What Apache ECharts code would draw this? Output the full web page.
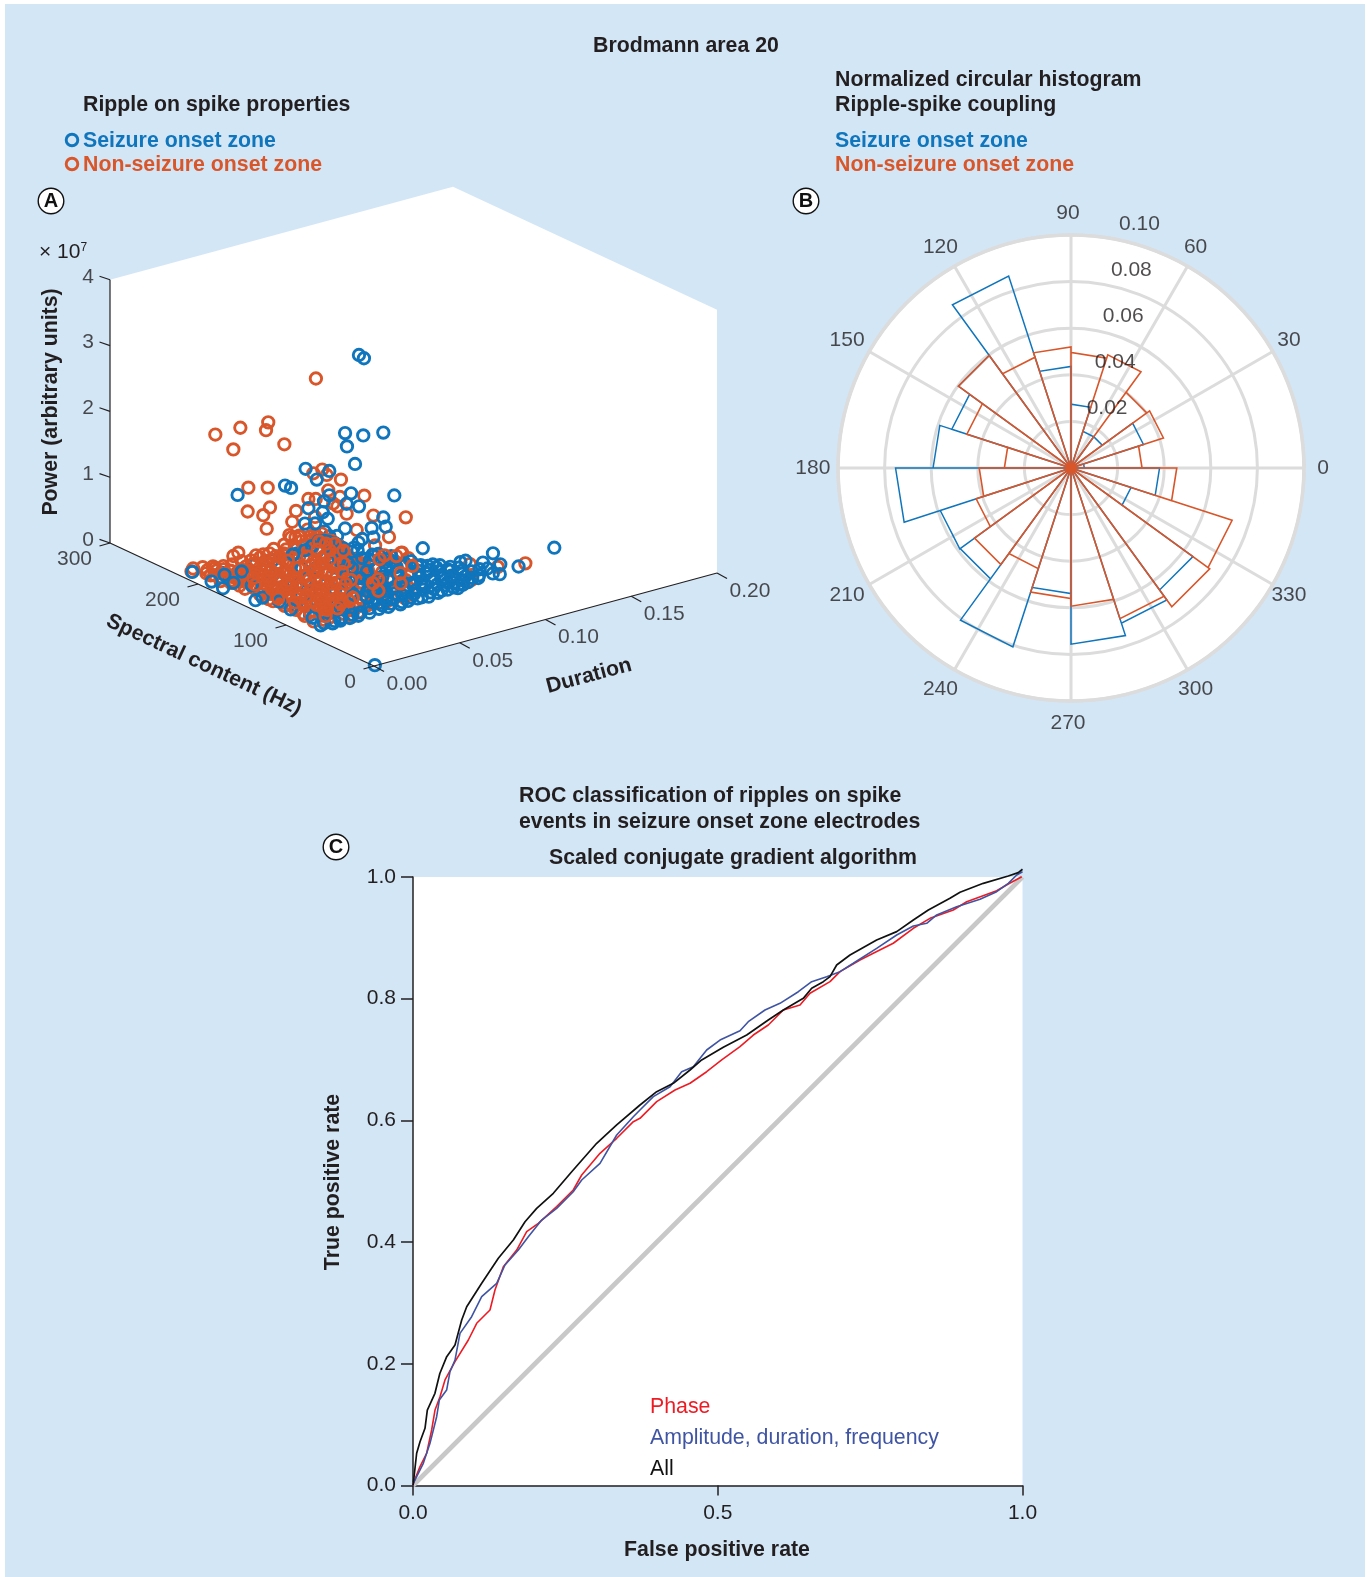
<!DOCTYPE html>
<html><head><meta charset="utf-8">
<style>html,body{margin:0;padding:0;background:#fff}#c{width:1370px;height:1577px}</style>
<script src="https://cdn.jsdelivr.net/npm/echarts@6/dist/echarts.min.js"></script>
</head><body><div id="c"></div>
<script>
// ---------- Panel A values: [duration (s), spectral content (Hz), power (x 1e7)]
const sozIsolated = [[.0682,150,3.31],[.0711,150,3.24],[.0601,150,2.18],[.0707,150,2.07],[.0824,150,2.03],[.0612,150,1.97],[.0659,150,1.67],[.0371,150,1.80],[.0509,150,1.67],[.0436,150,1.59],[.0251,150,1.63],[.0286,150,1.57],[.0231,200,1.19],[.0636,150,1.24],[.0509,150,1.30],[.0478,150,1.23],[.0387,150,1.19],[.0682,150,1.01],[.0888,150,1.03],[.0471,150,1.07],[.05,150,.95],[.0367,150,.97],[.0824,150,.74],[.0756,150,.63],[.0838,150,.59],[.0766,150,.48],[.0701,150,.50],[.0503,150,.60],[.1054,150,.11],[.0299,150,.55],[.0601,150,.73],[.061,150,1.10],[.0426,150,.93],
 [.159,105,.02],[.114,124,0],[.117,124,0],[.122,114,0],[.133,124,0],[.127,104,0],[.119,89,0],[.117,93,0],[.119,103,0],[.132,93,0],[.108,92,0],[.097,88,0],[.102,132,0],[.097,136,0],[.0075,221,0],[.0069,198,0],[.0059,183,0],[.017,203,0],[.026,201,0],[.0084,151,0],[.001,1,0]];
const sozFront = [[.015,86,.01],[.02,84,.02],[.026,88,0],[.031,85,.03],[.037,87,.01],[.043,89,.02],[.049,86,.04],[.055,88,.01],[.06,85,.02],[.066,87,.03],[.072,86,0],[.078,88,.02],[.084,87,.01],[.09,85,.03],[.095,89,.01],[.1,88,.02],
 [.012,84,.01],[.018,82,.01],[.023,83,.01],[.028,82,.02],[.034,84,0],[.04,83,.01],[.046,84,.02],[.052,85,0],[.058,83,.01],[.063,84,.02],[.069,85,.01],[.075,84,0],[.081,85,.01],[.087,86,.01],[.092,84,.01],
 [.014,97,.03],[.03,96,.06],[.041,97,.04],[.047,94,.08],[.052,98,.03],[.057,96,.05],[.063,99,.04],[.068,95,.06],[.074,97,.02],[.08,98,.05],[.086,96,.03],[.091,94,.04],[.097,99,.02],[.103,97,.03],
 [.05,92,.03],[.054,91,.06],[.059,93,.02],[.064,92,.05],[.07,91,.03],[.076,92,.05],[.082,92,.02],[.088,91,.04],[.094,93,.02],[.099,92,.03],[.105,93,.02],[.11,95,.01],
 [.044,109,.1],[.05,105,.13],[.055,108,.06],[.061,111,.09],[.067,106,.07],[.072,109,.1],[.078,107,.05],[.083,110,.08],[.089,105,.06],[.095,108,.04],[.101,110,.05],[.106,107,.03],
 [.048,102,.08],[.053,101,.12],[.058,103,.08],[.064,102,.1],[.069,101,.07],[.075,103,.08],[.08,102,.06],[.086,103,.06],[.092,102,.05],[.098,103,.04],[.104,102,.03],[.11,103,.02],[.115,104,.01],
 [.047,122,.16],[.053,119,.22],[.059,121,.12],[.065,117,.17],[.07,120,.1],[.076,123,.13],[.082,118,.09],[.088,121,.07],[.093,119,.06],[.099,122,.04],[.105,118,.03],
 [.05,114,.14],[.056,115,.18],[.062,114,.16],[.068,115,.12],[.073,114,.13],[.079,115,.1],[.085,114,.08],[.09,115,.06],[.096,114,.05],[.102,115,.03],[.108,114,.02],
 [.05,130,.2],[.056,134,.26],[.063,131,.18],[.069,133,.16],[.075,129,.2],[.081,132,.11],[.086,134,.08],[.092,130,.06],[.097,128,.04],[.103,126,.02],
 [.053,143,.34],[.06,146,.22],[.067,144,.27],[.073,147,.17],[.079,142,.13],[.085,145,.09],[.09,140,.05],[.095,143,.03],
 [.013,120,.02],[.014,135,.04],[.012,150,.02],[.016,170,.05],[.013,185,.02],
 [.046,160,.5],[.052,158,.55],[.056,155,.38],[.06,152,.42],[.048,172,.35],[.064,150,.35],[.07,155,.3],[.076,150,.22],[.082,155,.16],[.088,152,.1],[.055,170,.45],[.062,165,.4],[.068,168,.25]];
const sozBack = [[.014,100,.05],[.018,112,.1],[.022,125,.15],[.026,138,.2],[.03,150,.22],[.034,162,.3],[.038,140,.35],[.042,128,.4],[.046,118,.45],[.05,135,.5],[.054,146,.55],[.058,155,.6],[.062,125,.4],[.028,170,.12],[.024,185,.1],[.02,195,.05],[.016,205,.03],[.033,120,.25],[.037,105,.2],[.041,95,.15],[.045,110,.3],[.049,100,.22],[.053,115,.28],[.057,130,.33],[.03,195,.1],[.036,185,.2],[.042,175,.3],[.048,165,.4],
 [.018,96,.04],[.022,106,.06],[.026,96,.05],[.03,112,.1],[.034,100,.08],[.038,118,.16],[.042,108,.12],[.016,120,.06],[.02,135,.08],[.024,150,.1],[.028,128,.12],[.032,140,.2],[.036,152,.28],[.04,165,.4],[.044,150,.5],[.048,142,.42],[.052,152,.66],[.056,165,.62],[.06,140,.5],[.064,135,.32],[.068,150,.46],[.072,140,.3],[.076,135,.24],[.08,140,.2]];
const nsozIsolated = [[.0101,200,2.20],[.0247,200,2.20],[.0153,150,2.66],[.014,150,2.55],[.0206,200,1.90],[.0247,150,2.26],[.0037,150,1.75],[.015,150,1.67],[.0033,150,1.39],[.0163,150,1.36],[.0124,150,1.27],[.0144,150,1.05],[.0468,150,1.72],[.0416,150,1.70],[.0494,150,1.62],[.0577,150,1.49],[.0503,150,1.38],[.0387,150,1.33],[.043,150,1.30],[.0713,150,1.15],[.0315,150,1.20],[.0293,150,1.05],[.0276,150,.86],[.0334,150,.81],[.0397,150,.755],[.0363,150,.62],[.0766,150,.81],[.0955,150,.65],[.061,150,.95],[.0426,150,1.03],[.0857,150,.42],[.0927,150,.13],[.0556,150,1.10],[.0669,150,.66],[.0776,150,.35],[.0235,200,.31],[.0206,200,.28],[.0082,150,.69],[.0105,150,.64],[.0241,150,.51],[.0571,150,1.23],[.0532,150,1.16],[.0455,150,.66],[.0431,150,3.13],
 [.137,95,0],[.116,117,0],[.124,101,0],[.104,92,0],[.099,105,0],[.098,152,0],[.1,163,0],[.0075,222,0],[.01,205,.03],[.008,190,.05],[.014,188,.03],[.021,205,.02],[.026,190,.03],[.012,160,.1],[.02,178,.1],[.03,172,.12],[.018,150,.1],[.022,140,.05],[.026,160,.18]];
const nsozMass = [[.012,92,.02],[.016,88,.04],[.02,90,.03],[.024,93,.06],[.028,89,.04],[.033,91,.05],[.037,94,.03],[.042,90,.06],[.047,92,.04],[.053,89,.05],[.058,93,.03],[.064,90,.02],[.07,91,.04],
 [.011,100,.06],[.015,102,.08],[.019,99,.12],[.022,104,.09],[.027,101,.14],[.031,98,.17],[.035,103,.12],[.039,100,.19],[.044,105,.14],[.05,99,.16],[.056,102,.1],[.063,104,.08],[.072,101,.05],[.08,103,.04],
 [.012,112,.07],[.016,115,.13],[.02,110,.16],[.024,113,.22],[.028,117,.18],[.032,111,.26],[.036,114,.3],[.04,118,.24],[.044,112,.32],[.049,116,.26],[.054,113,.2],[.06,118,.14],[.068,115,.09],[.076,112,.07],
 [.012,125,.05],[.016,128,.1],[.02,124,.14],[.024,130,.2],[.028,126,.27],[.032,129,.32],[.036,125,.38],[.04,131,.34],[.044,127,.44],[.048,124,.36],[.052,129,.42],[.057,126,.28],[.063,130,.2],[.07,127,.14],
 [.012,138,.04],[.016,142,.08],[.02,136,.12],[.024,140,.18],[.028,144,.24],[.032,138,.3],[.036,141,.4],[.04,137,.5],[.044,143,.46],[.048,139,.58],[.052,142,.48],[.056,137,.36],[.062,141,.3],[.068,144,.18],
 [.013,155,.03],[.017,158,.06],[.021,152,.1],[.025,156,.16],[.029,160,.22],[.033,154,.3],[.037,157,.42],[.041,153,.52],[.045,159,.6],[.049,155,.7],[.053,158,.52],[.057,152,.42],[.063,156,.26],
 [.012,170,.03],[.016,174,.07],[.02,168,.1],[.024,172,.14],[.028,176,.2],[.032,170,.28],[.036,173,.38],[.04,168,.48],[.044,175,.55],[.048,171,.44],[.052,174,.32],
 [.012,186,.02],[.016,190,.05],[.02,184,.08],[.024,188,.1],[.028,192,.16],[.032,185,.22],[.036,189,.28],[.04,192,.3],
 [.012,205,.02],[.016,210,.03],[.02,202,.05],[.024,208,.08],[.028,205,.12],[.014,222,.02],[.018,218,.03],
 [.026,100,.03],[.03,108,.04],[.034,95,.02],[.038,105,.03],[.042,100,.02],[.036,88,.01],[.03,84,.01],[.024,86,.01],[.045,96,.01],[.05,108,.05],
 [.03,120,.05],[.036,128,.08],[.042,118,.06],[.034,110,.02],[.028,112,.03],[.046,102,.02],[.038,95,.02],
 [.013,145,.02],[.015,150,.05],[.017,162,.03],[.019,145,.07],[.021,162,.06],[.023,148,.04],[.025,168,.09],[.027,150,.07],[.029,180,.13],[.031,148,.12],[.033,165,.16],[.035,148,.2],[.037,172,.26],[.039,145,.28],[.041,180,.36],[.043,150,.34],
 [.013,178,.02],[.015,182,.04],[.017,178,.06],[.019,194,.04],[.021,190,.06],[.023,196,.05],[.025,180,.08],[.027,198,.09],[.029,185,.1],[.031,200,.14],[.033,190,.14],[.035,178,.18],[.037,198,.2],[.039,182,.24],
 [.013,198,.02],[.015,196,.02],[.017,215,.02],[.019,208,.04],[.022,214,.03],[.025,200,.05],[.011,212,.01],[.013,215,.02],[.01,225,.01],
 [.014,108,.03],[.018,104,.05],[.022,98,.03],[.026,106,.08],[.03,104,.1],[.034,106,.13],[.038,110,.18],[.042,108,.22],[.046,108,.2],[.05,112,.22],[.054,106,.16],[.058,108,.12],[.062,110,.1],[.066,106,.06],
 [.014,120,.06],[.018,118,.08],[.022,120,.12],[.026,122,.2],[.03,118,.22],[.034,120,.3],[.038,122,.34],[.042,120,.42],[.046,124,.4],[.05,120,.34],[.054,122,.3],[.058,120,.22],[.062,124,.16],[.066,120,.12],
 [.014,132,.04],[.018,134,.1],[.022,132,.14],[.026,134,.22],[.03,132,.28],[.034,134,.38],[.038,132,.46],[.042,136,.54],[.046,134,.6],[.05,136,.52],[.054,134,.44],[.058,136,.3],[.062,134,.24],[.066,136,.16],
 [.016,148,.06],[.02,148,.1],[.024,146,.16],[.028,150,.26],[.032,148,.34],[.036,150,.48],[.04,148,.6],[.044,150,.72],[.048,148,.66],[.052,150,.6],[.056,148,.5],[.06,150,.36],[.064,148,.22],
 [.034,165,.34],[.038,162,.5],[.042,165,.64],[.046,165,.72],[.05,165,.62],[.054,165,.5],[.058,165,.4],[.062,165,.28],[.035,180,.3],[.04,180,.44],[.045,182,.5],[.05,180,.42],[.055,178,.3]];
const nsozTop = [[.02,94,.03],[.024,100,.06],[.028,96,.08],[.032,100,.1],[.036,98,.12],[.04,102,.12],[.022,108,.1],[.026,112,.14],[.03,106,.14],[.034,116,.2],[.038,112,.2],[.042,114,.24],[.046,116,.26],[.024,124,.12],[.028,120,.2],[.032,124,.28],[.036,118,.26],[.04,125,.34],[.044,122,.36],[.048,128,.42],[.03,136,.3],[.034,130,.38],[.038,136,.44],[.042,132,.5],[.046,140,.56],[.05,142,.62],[.054,140,.5],[.036,146,.5],[.04,142,.6],[.044,148,.66],[.05,152,.56],[.018,125,.06],[.016,140,.04],[.02,155,.06],[.024,165,.1],[.028,152,.16],[.032,160,.2],[.018,170,.05],[.022,180,.06],[.026,172,.1],[.03,176,.14],[.036,168,.3],[.06,118,.1],[.066,124,.08],[.072,110,.06],[.078,122,.1],[.058,108,.06],[.088,128,.1],[.075,140,.22],[.082,148,.18],[.09,150,.1]];
// ---------- Panel B values: bar height per 18-degree bin, from 0 degrees counter-clockwise
const binWidthDeg = 18;
const sozBins  = [.0057,.0327,.0166,.0166,.0274,.0436,.0866,.0597,.0538,.0592,.0753,.059,.0588,.0807,.0539,.0756,.07,.0647,.0271,.038];
const nsozBins = [.0305,.0417,.0402,.0511,.0496,.052,.05,.0597,.047,.0286,.0394,.0428,.0512,.0454,.056,.0593,.068,.0736,.0727,.0454];
const radialTicks = [.02,.04,.06,.08,.10];
const angleTicks = [0,30,60,90,120,150,180,210,240,270,300,330];
// ---------- Panel C values
const rocPhase = [[0,0],[.0005,.0036],[.0115,.031],[.0224,.053],[.0306,.0912],[.0361,.124],[.0443,.146],[.0525,.1734],[.0689,.2035],[.0908,.2391],[.1045,.2666],[.1263,.2884],[.1345,.3213],[.1482,.3596],[.1701,.387],[.1865,.4171],[.2056,.4309],[.2357,.4582],[.2629,.4856],[.2768,.5103],[.3068,.5459],[.3342,.5706],[.3615,.5979],[.3724,.6034],[.3998,.6308],[.4299,.65],[.4545,.661],[.4818,.68],[.5065,.6993],[.5365,.7211],[.5584,.7403],[.5829,.7568],[.6076,.7814],[.635,.7896],[.6514,.8089],[.6842,.828],[.7006,.8444],[.7334,.8636],[.7552,.8746],[.788,.8911],[.8209,.9157],[.8482,.9321],[.8865,.9458],[.9084,.9594],[.9576,.9775],[.9767,.9885],[.9987,1.0005]];
const rocAmp = [[0,0],[.0005,.0036],[.0169,.0364],[.0279,.0693],[.0388,.113],[.0432,.1405],[.0552,.1569],[.0607,.187],[.0689,.2062],[.0771,.25],[.0962,.2774],[.1127,.3103],[.1373,.3323],[.1509,.3624],[.1728,.387],[.1892,.4089],[.2111,.4363],[.2357,.4555],[.2629,.4828],[.2768,.502],[.3068,.5294],[.3342,.576],[.3615,.606],[.3724,.6171],[.3943,.639],[.4217,.6554],[.4408,.68],[.4599,.6883],[.4818,.7157],[.5037,.7321],[.5365,.7474],[.5501,.7622],[.5775,.7814],[.6021,.7924],[.6322,.8115],[.6541,.828],[.6787,.8362],[.7006,.8444],[.7224,.8582],[.7607,.8828],[.7936,.9047],[.8209,.9195],[.8428,.9239],[.8592,.9376],[.892,.9512],[.9303,.9633],[.9576,.9758],[.9767,.9896],[.9905,1.0033],[1,1.0087]];
const rocAll = [[0,0],[.0005,.0036],[.006,.053],[.0115,.072],[.0197,.094],[.0235,.124],[.036,.1515],[.044,.184],[.0553,.2117],[.0689,.2309],[.0799,.272],[.0881,.2938],[.1127,.3323],[.14,.3734],[.1646,.4034],[.1838,.4335],[.2029,.4555],[.2302,.4802],[.2604,.5157],[.3014,.5624],[.3342,.5925],[.3724,.6253],[.3998,.6472],[.4271,.6609],[.4545,.6828],[.4736,.6993],[.5091,.7201],[.5475,.7403],[.5829,.765],[.6076,.7814],[.6404,.8006],[.6541,.8171],[.6732,.828],[.6842,.8362],[.6951,.8554],[.717,.8718],[.7607,.8965],[.7936,.9102],[.8209,.9293],[.8455,.9458],[.881,.965],[.8975,.9749],[.9357,.9896],[.9767,1.0016],[.9931,1.0071],[1,1.0127]];
const rocChance = [[0,0],[1,1]];
const durationTicks = [0,.05,.10,.15,.20];
const spectralTicks = [0,100,200,300];
const powerTicks = [0,1,2,3,4];

const BLUE='#0f75bc', ORANGE='#d8562a', INK='#231f20', BG='#d3e6f6', GRID='#dcdcdc';
const FONT='"Liberation Sans", Arial, sans-serif';
const HEAD=21.3, TICK=21;
// oblique view of the 3-D box, expressed in the hidden page-sized axes
const O=[374,666], DV=[343,-93], FV=[-264,-123], PV=[0,-65.8];
const proj=(d,f,p)=>[O[0]+d/.2*DV[0]+f/300*FV[0], O[1]+d/.2*DV[1]+f/300*FV[1]+p*PV[1]];
const g3d=a=>a.map(t=>proj(t[0],t[1],t[2]));
const ringSeries=(name,pts,color)=>({name,type:'scatter',xAxisIndex:0,yAxisIndex:0,data:g3d(pts),symbol:'circle',symbolSize:11.4,
  itemStyle:{color:'rgba(0,0,0,0)',borderColor:color,borderWidth:2.9,opacity:1},silent:true,animation:false});
const seg=(a,b,w=1.2)=>({type:'line',xAxisIndex:0,yAxisIndex:0,data:[a,b],symbol:'none',silent:true,lineStyle:{color:INK,width:w},z:3,animation:false});
const lab=(items,align)=>({type:'scatter',xAxisIndex:0,yAxisIndex:0,symbolSize:0,silent:true,z:4,animation:false,
  data:items.map(i=>({value:i.p,label:{show:true,position:'inside',formatter:i.t,align,verticalAlign:'middle',fontSize:TICK,color:INK,fontFamily:FONT}}))});
const add=(p,dx,dy)=>[p[0]+dx,p[1]+dy];

const wall={type:'custom',xAxisIndex:0,yAxisIndex:0,silent:true,z:1,animation:false,data:[[0,0]],
  renderItem:(ctx,api)=>({type:'polygon',shape:{points:[proj(0,300,4),proj(.2,300,4),proj(.2,0,4),proj(.2,0,0),proj(0,0,0),proj(0,300,0)].map(p=>api.coord(p))},style:{fill:'#fff'}})};

const axesA=[seg(proj(0,0,0),proj(.2,0,0)),seg(proj(0,0,0),proj(0,300,0)),seg(proj(0,300,0),proj(0,300,4)),
 ...durationTicks.map(v=>seg(proj(v,0,0),add(proj(v,0,0),10,5.5))),
 ...spectralTicks.map(v=>seg(proj(0,v,0),add(proj(0,v,0),-10.5,3))),
 ...powerTicks.map(v=>seg(proj(0,300,v),add(proj(0,300,v),-10.5,-3.6))),
 lab(durationTicks.map(v=>({p:add(proj(v,0,0),33,18),t:v.toFixed(2)})),'center'),
 lab(spectralTicks.map(v=>({p:add(proj(0,v,0),-18,16),t:String(v)})),'right'),
 lab(powerTicks.map(v=>({p:add(proj(0,300,v),-16,-3),t:String(v)})),'right')];

const roseLine=(name,bins,color,w)=>{const d=[];bins.forEach((r,i)=>{const a=i*binWidthDeg,b=a+binWidthDeg;d.push([0,a],[r,a],[r,b],[0,b]);});
  return {name,type:'line',coordinateSystem:'polar',data:d,symbol:'none',silent:true,clip:false,animation:false,lineStyle:{color,width:w,join:'miter'},z:3};};
const radialLabels={type:'scatter',coordinateSystem:'polar',symbolSize:0,silent:true,clip:false,z:5,animation:false,
  data:radialTicks.map(r=>[r,80]),
  label:{show:true,position:'inside',offset:[28,-14],formatter:p=>p.value[0].toFixed(2),fontSize:TICK,color:INK,fontFamily:FONT}};
const angleLabels={type:'scatter',coordinateSystem:'polar',symbolSize:0,silent:true,clip:false,z:5,animation:false,
  data:angleTicks.map(a=>[.1095,a]),
  label:{show:true,position:'inside',offset:[-3,0],formatter:p=>String(p.value[1]),fontSize:TICK,color:INK,fontFamily:FONT}};

const rocLine=(name,data,color,w,z)=>({name,type:'line',xAxisIndex:1,yAxisIndex:1,data,symbol:'none',silent:true,clip:false,animation:false,lineStyle:{color,width:w},z});

const txt=(t,x,y,o={})=>({type:'text',x,y,rotation:o.rot||0,z:o.z||50,style:{text:t,fill:o.c||INK,font:`${o.b===false?'normal':'bold'} ${o.s||HEAD}px ${FONT}`,textAlign:o.a||'left',textVerticalAlign:'middle'}});
const badge=(t,x,y)=>[{type:'circle',shape:{cx:x,cy:y,r:12.8},z:50,style:{fill:'#fff',stroke:'#111',lineWidth:1.4}},txt(t,x,y+.5,{a:'center',s:20,c:'#111'})];
const ring=(x,y,c)=>({type:'circle',shape:{cx:x,cy:y,r:5.8},z:50,style:{fill:'none',stroke:c,lineWidth:2.9}});
const D2R=Math.PI/180;

const chart=echarts.init(document.getElementById('c'),null,{renderer:'canvas'});
chart.setOption({
 animation:false,backgroundColor:'#fff',
 graphic:{elements:[
  {type:'rect',shape:{x:5,y:4,width:1360,height:1573},z:-100,silent:true,style:{fill:BG}},
  {type:'circle',shape:{cx:1071,cy:468,r:233},z:-90,silent:true,style:{fill:'#fff'}},
  txt('Brodmann area 20',593,46),
  txt('Ripple on spike properties',83,105),
  ring(72,140,BLUE),txt('Seizure onset zone',83,141,{c:BLUE}),
  ring(72,164,ORANGE),txt('Non-seizure onset zone',83,165,{c:ORANGE}),
  txt('Normalized circular histogram',835,80),txt('Ripple-spike coupling',835,105),
  txt('Seizure onset zone',835,141,{c:BLUE}),txt('Non-seizure onset zone',835,165,{c:ORANGE}),
  ...badge('A',51,201),...badge('B',806,201),...badge('C',336,847),
  {type:'text',x:39,y:252,z:50,style:{text:'× 10{s|7}',fill:INK,font:`normal 21px ${FONT}`,textVerticalAlign:'middle',rich:{s:{fontSize:12,fontFamily:FONT,verticalAlign:'top',fill:INK,padding:[0,0,8,0]}}}},
  txt('Power (arbitrary units)',51,402,{a:'center',rot:90*D2R}),
  txt('Spectral content (Hz)',204,665,{a:'center',rot:-25*D2R}),
  txt('Duration',589,676,{a:'center',rot:15*D2R}),
  txt('ROC classification of ripples on spike',519,796),
  txt('events in seizure onset zone electrodes',519,822),
  txt('Scaled conjugate gradient algorithm',549,858),
  txt('True positive rate',333,1182,{a:'center',rot:90*D2R}),
  txt('False positive rate',717,1550,{a:'center'}),
  txt('Phase',650,1407,{b:false,c:'#ed1c24'}),
  txt('Amplitude, duration, frequency',650,1438,{b:false,c:'#3f54a3'}),
  txt('All',650,1469,{b:false,c:'#111'})
 ]},
 grid:[{left:0,top:0,width:1370,height:1577,show:false},{left:413,top:877,width:609.5,height:608.5,show:true,backgroundColor:'#fff',borderWidth:0}],
 xAxis:[{type:'value',min:0,max:1370,show:false},
  {gridIndex:1,type:'value',min:0,max:1,interval:.5,splitLine:{show:false},axisLine:{lineStyle:{color:INK,width:1.5}},axisTick:{inside:false,length:10,lineStyle:{color:INK,width:1.5}},axisLabel:{fontSize:TICK,color:INK,fontFamily:FONT,margin:17,formatter:v=>v.toFixed(1)}}],
 yAxis:[{type:'value',min:0,max:1577,inverse:true,show:false},
  {gridIndex:1,type:'value',min:0,max:1,interval:.2,splitLine:{show:false},axisLine:{show:true,lineStyle:{color:INK,width:1.5}},axisTick:{show:true,length:12,lineStyle:{color:INK,width:1.5}},axisLabel:{fontSize:TICK,color:INK,fontFamily:FONT,margin:17,formatter:v=>v.toFixed(1)}}],
 polar:{center:[1071,468],radius:233},
 angleAxis:{type:'value',min:0,max:360,interval:30,startAngle:0,clockwise:false,axisLine:{lineStyle:{color:GRID,width:3.6}},axisTick:{show:false},axisLabel:{show:false},splitLine:{lineStyle:{color:GRID,width:3}}},
 radiusAxis:{type:'value',min:0,max:.1,interval:.02,axisLine:{show:false},axisTick:{show:false},axisLabel:{show:false},splitLine:{show:true,lineStyle:{color:GRID,width:3}}},
 series:[wall,...axesA,
  ringSeries('Seizure onset zone',sozBack,BLUE),
  ringSeries('Non-seizure onset zone',nsozIsolated.concat(nsozMass),ORANGE),
  ringSeries('Seizure onset zone',sozIsolated.concat(sozFront),BLUE),
  ringSeries('Non-seizure onset zone',nsozTop,ORANGE),
  roseLine('Seizure onset zone',sozBins,BLUE,1.5),roseLine('Non-seizure onset zone',nsozBins,ORANGE,1.6),radialLabels,angleLabels,
  rocLine('Chance',rocChance,'#c8c8c8',4.6,2),
  rocLine('Phase',rocPhase,'#ed1c24',1.6,3),rocLine('Amplitude, duration, frequency',rocAmp,'#3f54a3',1.6,4),rocLine('All',rocAll,'#111111',1.7,5)
 ]
});
</script></body></html>
